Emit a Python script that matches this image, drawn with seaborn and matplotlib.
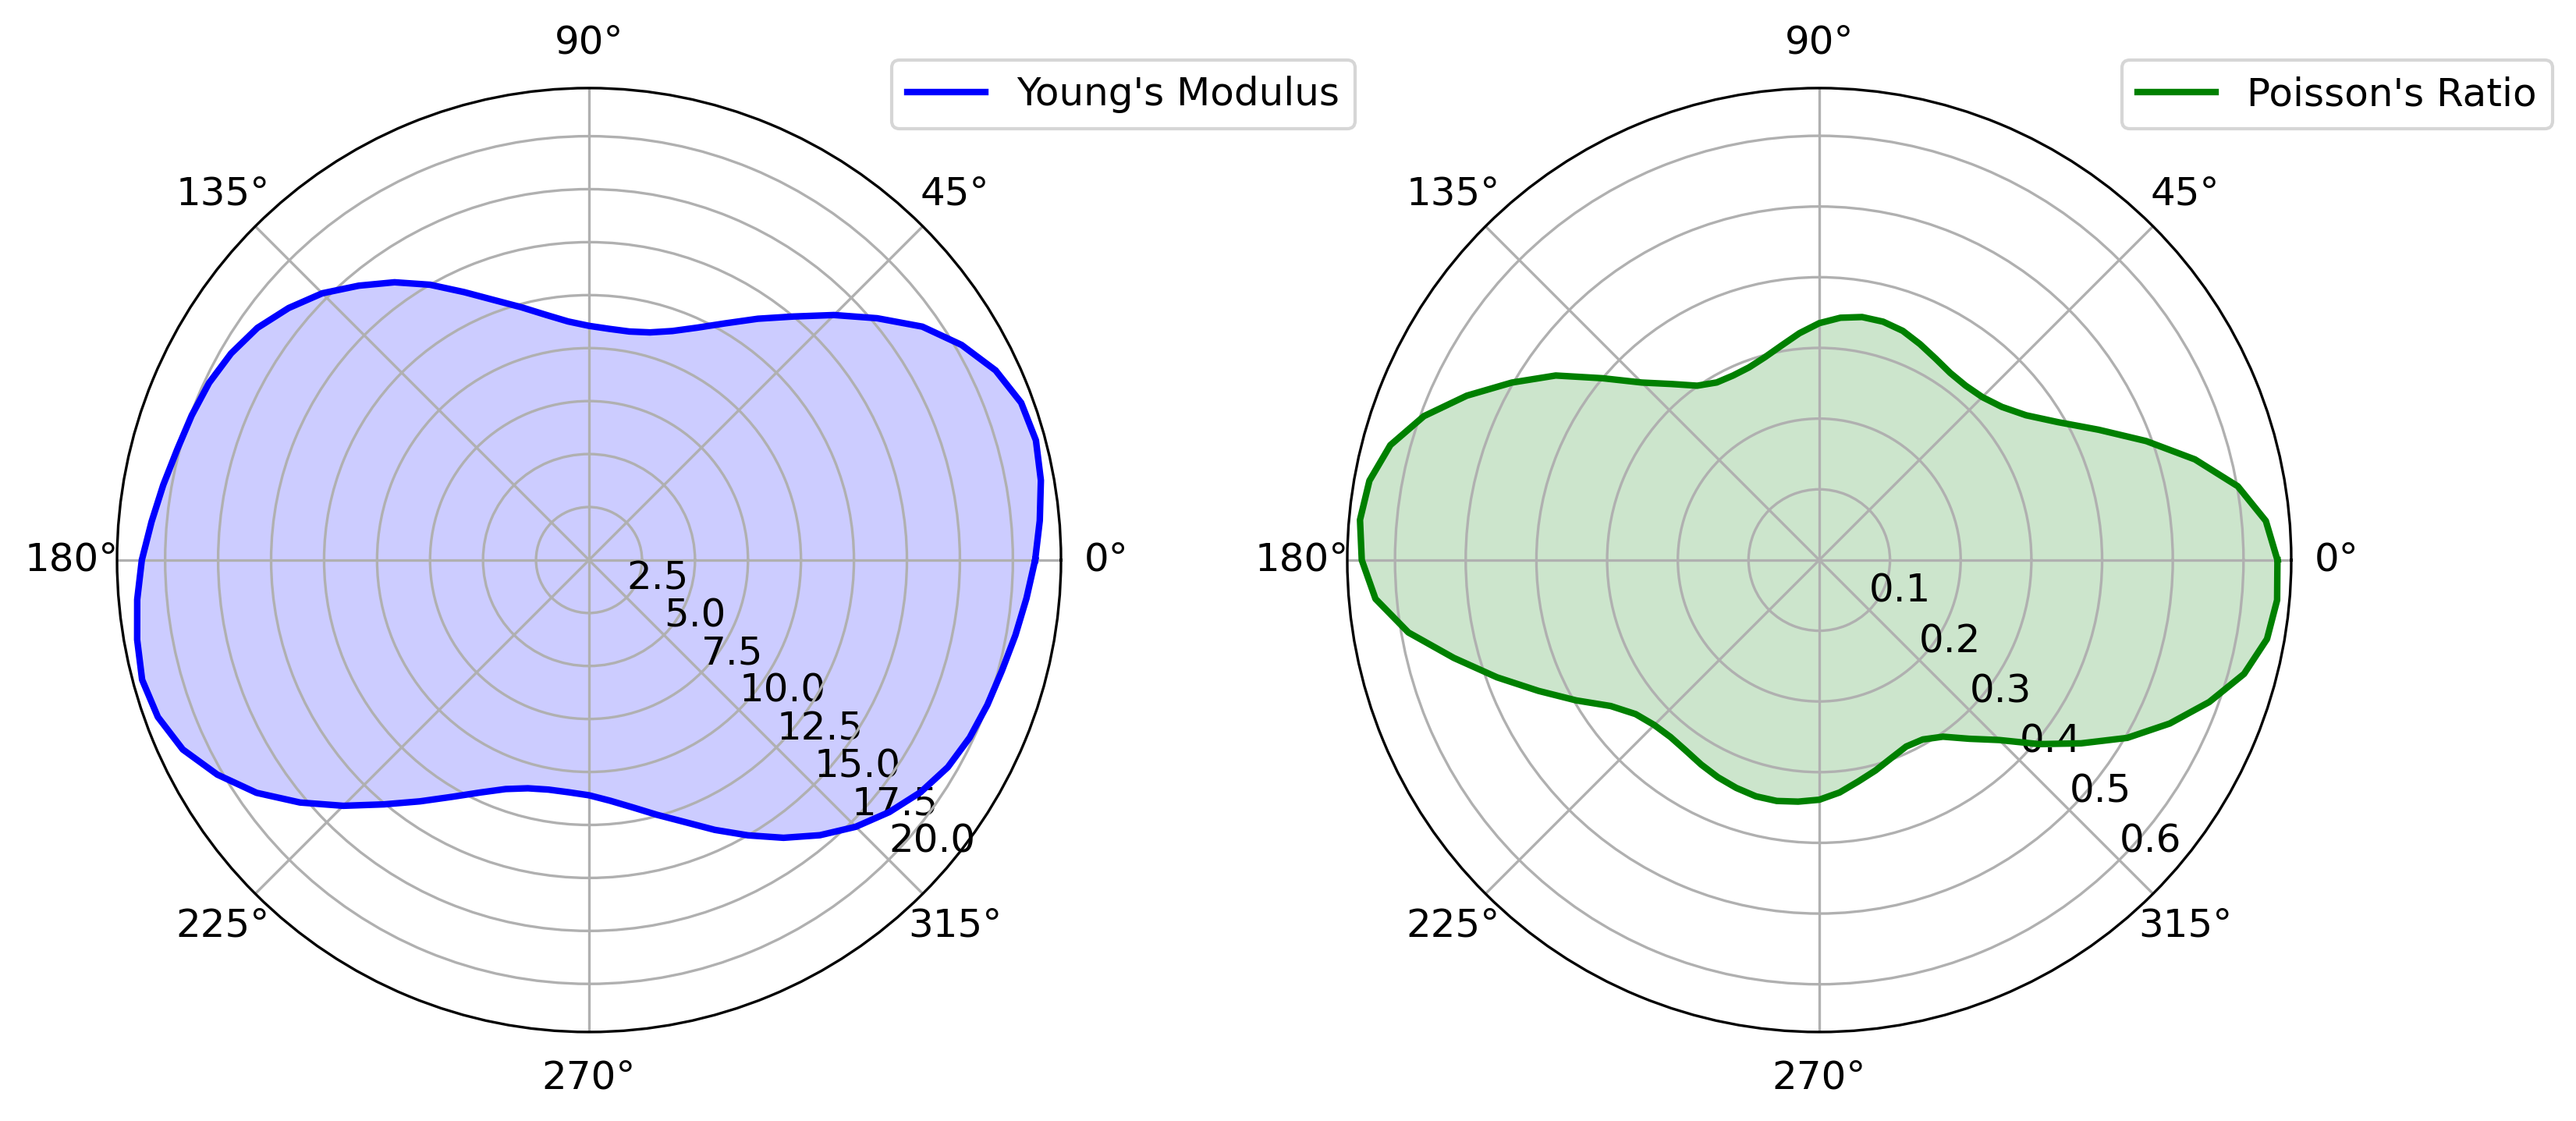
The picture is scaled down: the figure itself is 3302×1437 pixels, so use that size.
import numpy as np
import pandas as pd
import matplotlib
matplotlib.use('Agg')
import matplotlib.pyplot as plt
import seaborn as sns

# angles (deg) at which the curves were read, every 5 degrees
angles_deg = list(range(0, 360, 5))

# Young's modulus
youngs_modulus = [
    21.05, 21.35, 21.65, 21.83, 21.7, 21.17, 20.3, 19.2, 17.75, 16.35, 15.0, 13.9,
    12.9, 12.1, 11.5, 11.12, 10.95, 10.95, 11.05, 11.3, 11.75, 12.35, 13.05, 13.95,
    15.0, 16.0, 16.9, 17.8, 18.5, 19.1, 19.5, 19.78, 19.95, 20.12, 20.4, 20.72,
    21.1, 21.4, 21.65, 21.83, 21.65, 21.15, 20.25, 19.15, 17.8, 16.4, 15.05, 13.9,
    12.9, 12.1, 11.5, 11.15, 11.0, 11.0, 11.1, 11.4, 11.85, 12.45, 13.15, 14.05,
    15.0, 16.0, 16.95, 17.8, 18.5, 19.1, 19.55, 19.82, 20.0, 20.17, 20.43, 20.72,
]

# Poisson's ratio
poisson_ratio = [
    0.648, 0.634, 0.601, 0.550, 0.492, 0.436, 0.390, 0.357, 0.337, 0.326, 0.322, 0.323,
    0.329, 0.337, 0.345, 0.349, 0.349, 0.344, 0.335, 0.322, 0.308, 0.297, 0.290, 0.288,
    0.290, 0.301, 0.325, 0.355, 0.400, 0.455, 0.502, 0.550, 0.595, 0.628, 0.646, 0.652,
    0.647, 0.630, 0.590, 0.535, 0.485, 0.438, 0.397, 0.360, 0.339, 0.330, 0.327, 0.329,
    0.334, 0.339, 0.343, 0.346, 0.346, 0.343, 0.339, 0.330, 0.318, 0.308, 0.298, 0.291,
    0.293, 0.305, 0.330, 0.360, 0.405, 0.452, 0.503, 0.547, 0.587, 0.622, 0.643, 0.650,
]

youngs_ticks = [2.5, 5.0, 7.5, 10.0, 12.5, 15.0, 17.5, 20.0]
poisson_ticks = [0.1, 0.2, 0.3, 0.4, 0.5, 0.6]


def closed_curve(values):
    # close the loop by repeating the first reading at 360 deg
    theta = np.deg2rad(angles_deg + [360])
    return pd.DataFrame({'theta': theta, 'r': list(values) + [values[0]]})


plt.rcParams['font.size'] = 12

fig = plt.figure(figsize=(3302 / 300, 1437 / 300), dpi=300)
ax1 = fig.add_axes([0.04543, 0.0794, 0.36645, 0.84203], projection='polar')
ax2 = fig.add_axes([0.52301, 0.0794, 0.36645, 0.84203], projection='polar')

panels = [
    (ax1, youngs_modulus, 'blue', "Young's Modulus", youngs_ticks, 22.27),
    (ax2, poisson_ratio, 'green', "Poisson's Ratio", poisson_ticks, 0.6675),
]

for ax, values, color, label, ticks, rmax in panels:
    df = closed_curve(values)
    sns.lineplot(data=df, x='theta', y='r', ax=ax, color=color,
                 linewidth=2, label=label, sort=False)
    ax.fill(df['theta'], df['r'], color=color, alpha=0.2, linewidth=0)
    ax.set_ylim(0, rmax)
    ax.set_rticks(ticks)
    ax.set_rlabel_position(-45)
    ax.set_xlabel('')
    ax.set_ylabel('')
    ax.tick_params(labelsize=12)
    ax.legend(loc='upper left', bbox_to_anchor=(0.8, 1.05), fontsize=12)

fig.savefig('out.png', dpi=300)
